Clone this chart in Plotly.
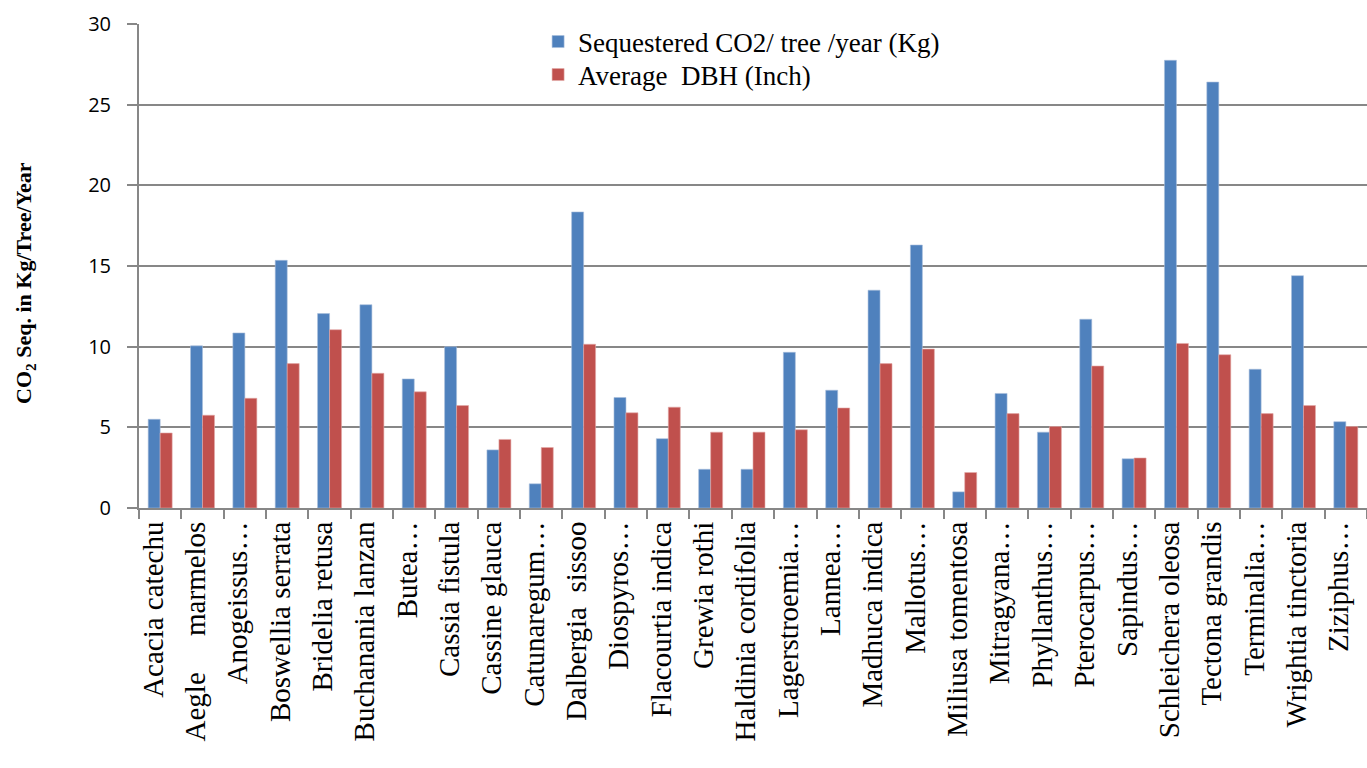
import plotly.graph_objects as go

NB = "\u00a0"

# Tree species (category axis)
species = [
    "Acacia catechu", "Aegle" + NB * 5 + "marmelos", "Anogeissus…", "Boswellia serrata",
    "Bridelia retusa", "Buchanania lanzan", "Butea…", "Cassia fistula", "Cassine glauca",
    "Catunaregum…", "Dalbergia" + NB * 2 + "sissoo", "Diospyros…", "Flacourtia indica",
    "Grewia rothi", "Haldinia cordifolia", "Lagerstroemia…", "Lannea…", "Madhuca indica",
    "Mallotus…", "Miliusa tomentosa", "Mitragyana…", "Phyllanthus…", "Pterocarpus…",
    "Sapindus…", "Schleichera oleosa", "Tectona grandis", "Terminalia…", "Wrightia tinctoria",
    "Ziziphus…",
]

# Sequestered CO2 per tree per year (kg)
co2_seq = [
    5.5, 10.05, 10.85, 15.35, 12.05, 12.6, 8.0, 10.0, 3.6, 1.5,
    18.35, 6.85, 4.3, 2.4, 2.4, 9.65, 7.3, 13.5, 16.3, 1.0,
    7.1, 4.7, 11.7, 3.05, 27.75, 26.4, 8.6, 14.4, 5.35,
]

# Average diameter at breast height (inch)
avg_dbh = [
    4.65, 5.75, 6.8, 8.95, 11.05, 8.35, 7.2, 6.35, 4.25, 3.75,
    10.15, 5.9, 6.25, 4.7, 4.7, 4.85, 6.2, 8.95, 9.85, 2.2,
    5.85, 5.05, 8.8, 3.1, 10.2, 9.5, 5.85, 6.35, 5.05,
]

y_ticks = [0, 5, 10, 15, 20, 25, 30]

GRID = "#878787"
SERIF = "Liberation Serif"

fig = go.Figure()
fig.add_bar(
    x=species, y=co2_seq,
    name="Sequestered CO2/ tree /year (Kg)",
    marker=dict(color="#4F81BD", line=dict(color="#a7bedc", width=0.6)),
    legend="legend",
)
fig.add_bar(
    x=species, y=avg_dbh,
    name="Average" + NB * 2 + "DBH (Inch)",
    marker=dict(color="#C0504D", line=dict(color="#e2a9a7", width=0.6)),
    legend="legend2",
)

legend_style = dict(
    xanchor="left", yanchor="middle",
    font=dict(family=SERIF, size=27, color="black"),
    bgcolor="rgba(0,0,0,0)", itemwidth=30,
)

fig.update_layout(
    width=1367, height=768,
    margin=dict(l=139, r=0, t=24, b=260, autoexpand=False),
    barmode="group", bargap=0.434, bargroupgap=0,
    plot_bgcolor="white", paper_bgcolor="white",
    showlegend=True,
    legend=dict(x=0.325, y=1 - (42 - 24) / 484, **legend_style),
    legend2=dict(x=0.325, y=1 - (75 - 24) / 484, **legend_style),
    xaxis=dict(
        type="category", automargin=False,
        showline=True, linecolor=GRID, linewidth=2,
        ticks="outside", tickson="boundaries", ticklen=9, tickcolor=GRID, tickwidth=2,
        tickangle=-90, ticklabelshift=-7,
        tickfont=dict(family=SERIF, size=29, color="black"),
        showgrid=False,
    ),
    yaxis=dict(
        range=[0, 30], tickvals=y_ticks, automargin=False,
        showline=True, linecolor=GRID, linewidth=2,
        ticks="outside", ticklen=10, tickcolor=GRID, tickwidth=2,
        ticklabelstandoff=12,
        tickfont=dict(family="Open Sans", size=20, color="black"),
        showgrid=True, gridcolor=GRID, gridwidth=2, zeroline=False,
    ),
    annotations=[
        dict(
            text="CO<sub>2</sub> Seq. in Kg/Tree/Year",
            textangle=-90, showarrow=False,
            xref="paper", yref="paper", x=0, y=0.465,
            xanchor="center", yanchor="middle", xshift=-114,
            font=dict(family=SERIF, size=22, color="black", weight="bold"),
        )
    ],
)

fig.write_html("out.html")
